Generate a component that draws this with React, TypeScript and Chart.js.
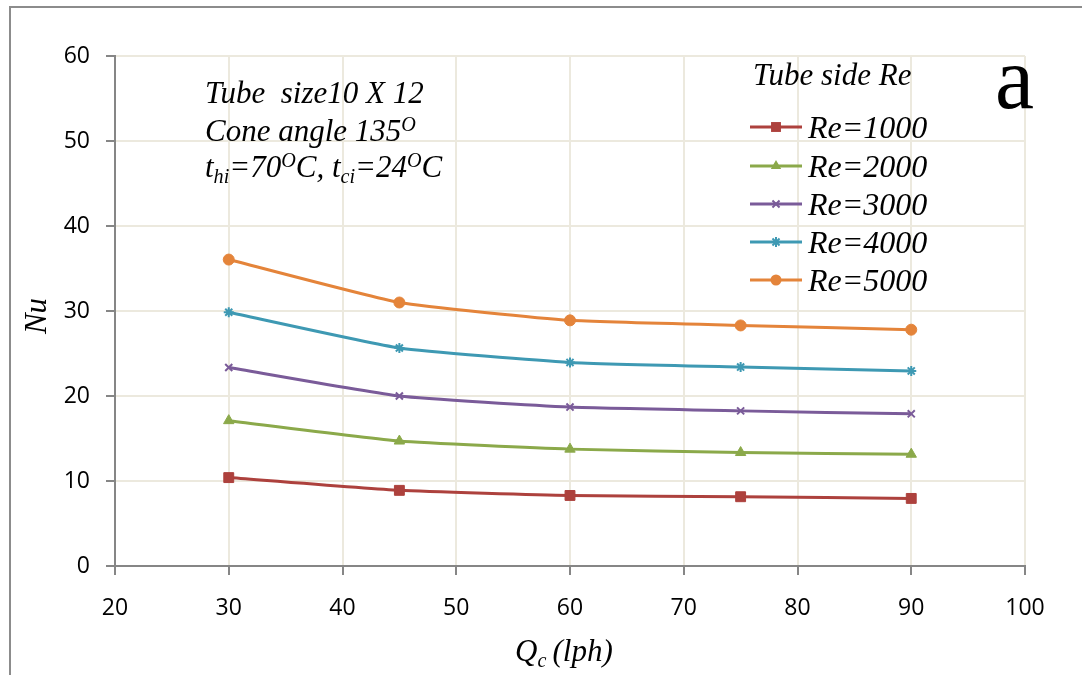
import React, { useEffect, useRef } from 'react';
import { Chart, registerables } from 'chart.js';

Chart.register(...registerables);

// ---- data ----
const qcValues = [30, 45, 60, 75, 90];
const re1000 = [10.4, 8.9, 8.3, 8.15, 7.95];
const re2000 = [17.1, 14.7, 13.75, 13.35, 13.15];
const re3000 = [23.35, 20.0, 18.7, 18.25, 17.9];
const re4000 = [29.85, 25.65, 23.95, 23.4, 22.95];
const re5000 = [36.05, 31.0, 28.9, 28.3, 27.8];
const seriesLabels = ['Re=1000', 'Re=2000', 'Re=3000', 'Re=4000', 'Re=5000'];
const seriesColors = ['#AD413D', '#8BA94A', '#7A5B99', '#3E99B3', '#E4843A'];
const seriesMarkers = ['rect', 'triangle', 'crossRot', 'star', 'circle'];
const seriesRadius = [7, 6, 5, 5, 5.5];
const xTickValues = [20, 30, 40, 50, 60, 70, 80, 90, 100];
const yTickValues = [0, 10, 20, 30, 40, 50, 60];

const infoLines = [
  [{ t: 'Tube  size10 X 12', k: 'n' }],
  [{ t: 'Cone angle 135', k: 'n' }, { t: 'O', k: 'sup' }],
  [
    { t: 't', k: 'n' }, { t: 'hi', k: 'sub' }, { t: '=70', k: 'n' }, { t: 'O', k: 'sup' },
    { t: 'C, t', k: 'n' }, { t: 'ci', k: 'sub' }, { t: '=24', k: 'n' }, { t: 'O', k: 'sup' }, { t: 'C', k: 'n' },
  ],
];
const legendTitle = 'Tube side Re';
const panelLetter = 'a';
const yTitle = 'Nu';
const xTitle = [{ t: 'Q', k: 'n' }, { t: 'c', k: 'sub' }, { t: '\u2009(lph)', k: 'n' }];

const SERIF = '"Liberation Serif", "Times New Roman", serif';
const SANS = '"Open Sans", "Noto Sans", sans-serif';

function drawMarker(ctx: CanvasRenderingContext2D, style: string, x: number, y: number, r: number, color: string) {
  ctx.save();
  ctx.fillStyle = color;
  ctx.strokeStyle = color;
  ctx.lineWidth = 2;
  ctx.beginPath();
  if (style === 'rect') {
    const s = Math.SQRT1_2 * r;
    ctx.rect(x - s, y - s, 2 * s, 2 * s);
    ctx.fill();
  } else if (style === 'circle') {
    ctx.arc(x, y, r, 0, Math.PI * 2);
    ctx.fill();
  } else if (style === 'triangle') {
    const a = -Math.PI / 2;
    for (let i = 0; i < 3; i++) {
      const ang = a + (i * 2 * Math.PI) / 3;
      const px = x + Math.cos(ang) * r;
      const py = y + Math.sin(ang) * r;
      if (i === 0) ctx.moveTo(px, py); else ctx.lineTo(px, py);
    }
    ctx.closePath();
    ctx.fill();
  } else if (style === 'crossRot' || style === 'star') {
    const d = Math.SQRT1_2 * r;
    ctx.moveTo(x - d, y - d); ctx.lineTo(x + d, y + d);
    ctx.moveTo(x - d, y + d); ctx.lineTo(x + d, y - d);
    if (style === 'star') {
      ctx.moveTo(x, y - r); ctx.lineTo(x, y + r);
      ctx.moveTo(x - r, y); ctx.lineTo(x + r, y);
    }
    ctx.stroke();
  }
  ctx.restore();
}

function drawRich(ctx: CanvasRenderingContext2D, segs: { t: string; k: string }[], x: number, y: number, size: number) {
  let cx = x;
  for (const s of segs) {
    let fs = size;
    let dy = 0;
    if (s.k === 'sub') { fs = size * 0.65; dy = size * 0.2; }
    if (s.k === 'sup') { fs = size * 0.65; dy = -size * 0.33; }
    ctx.font = `italic ${fs}px ${SERIF}`;
    ctx.fillText(s.t, cx, y + dy);
    cx += ctx.measureText(s.t).width;
  }
}

const overlayPlugin = {
  id: 'overlay',
  afterDraw(chart: any) {
    const ctx: CanvasRenderingContext2D = chart.ctx;
    const area = chart.chartArea;
    ctx.save();
    // frame
    ctx.strokeStyle = '#8c8c8c';
    ctx.lineWidth = 2;
    ctx.beginPath();
    ctx.moveTo(10, 690);
    ctx.lineTo(10, 7);
    ctx.lineTo(1100, 7);
    ctx.stroke();

    ctx.fillStyle = '#000';
    ctx.textAlign = 'left';
    ctx.textBaseline = 'alphabetic';
    // info block
    const infoBase = [103, 141, 177];
    infoLines.forEach((segs, i) => drawRich(ctx, segs, 205, infoBase[i], 31));

    // legend
    ctx.font = `italic 31px ${SERIF}`;
    ctx.fillText(legendTitle, 753, 85);
    const rowY = [127, 166, 204, 242, 280];
    seriesLabels.forEach((lab, i) => {
      const y = rowY[i];
      ctx.strokeStyle = seriesColors[i];
      ctx.lineWidth = 3;
      ctx.beginPath();
      ctx.moveTo(750, y);
      ctx.lineTo(802, y);
      ctx.stroke();
      drawMarker(ctx, seriesMarkers[i], 776, y, seriesRadius[i], seriesColors[i]);
      ctx.fillStyle = '#000';
      ctx.font = `italic 32px ${SERIF}`;
      ctx.fillText(lab, 808, y + 11);
    });

    // panel letter
    ctx.font = `88px ${SERIF}`;
    ctx.fillText(panelLetter, 995, 108);

    // axis titles
    ctx.save();
    ctx.translate(46, (area.top + area.bottom) / 2 + 5);
    ctx.rotate(-Math.PI / 2);
    ctx.textAlign = 'center';
    ctx.font = `italic 31px ${SERIF}`;
    ctx.fillText(yTitle, 0, 0);
    ctx.restore();

    drawRich(ctx, xTitle, 515, 661, 31);
    ctx.restore();
  },
};

export default function App() {
  const ref = useRef<HTMLCanvasElement | null>(null);
  useEffect(() => {
    document.body.style.margin = '0';
    const canvas = ref.current;
    if (!canvas) return;
    const sets = [re1000, re2000, re3000, re4000, re5000].map((vals, i) => ({
      label: seriesLabels[i],
      data: qcValues.map((x, j) => ({ x, y: vals[j] })),
      borderColor: seriesColors[i],
      backgroundColor: seriesColors[i],
      pointStyle: seriesMarkers[i] as any,
      pointRadius: seriesRadius[i],
      pointBorderWidth: seriesMarkers[i] === 'crossRot' || seriesMarkers[i] === 'star' ? 2 : 1,
      borderWidth: 3,
      tension: 0.15,
      fill: false,
    }));
    const chart = new Chart(canvas, {
      type: 'line',
      data: { datasets: sets },
      options: {
        animation: false,
        responsive: false,
        layout: { padding: { left: 0, right: 57, top: 56, bottom: 0 } },
        plugins: { legend: { display: false }, tooltip: { enabled: false }, title: { display: false } },
        scales: {
          x: {
            type: 'linear',
            min: 20,
            max: 100,
            afterFit: (s: any) => { s.height = 109; },
            afterBuildTicks: (s: any) => { s.ticks = xTickValues.map((v) => ({ value: v })); },
            grid: { color: '#ECE9DE', lineWidth: 2, tickColor: '#868686', tickLength: 9, drawTicks: true },
            border: { color: '#868686', width: 2 },
            ticks: { color: '#000', font: { family: SANS, size: 23 }, padding: 20, maxRotation: 0 },
          },
          y: {
            type: 'linear',
            min: 0,
            max: 60,
            afterFit: (s: any) => { s.width = 115; },
            afterBuildTicks: (s: any) => { s.ticks = yTickValues.map((v) => ({ value: v })); },
            grid: { color: '#ECE9DE', lineWidth: 2, tickColor: '#868686', tickLength: 9, drawTicks: true },
            border: { color: '#868686', width: 2 },
            ticks: { color: '#000', font: { family: SANS, size: 23 }, padding: 16 },
          },
        },
      },
      plugins: [overlayPlugin],
    });
    return () => chart.destroy();
  }, []);
  return (
    <div style={{ width: 1082, height: 675, background: '#fff' }}>
      <canvas ref={ref} width={1082} height={675} style={{ display: 'block' }} />
    </div>
  );
}
